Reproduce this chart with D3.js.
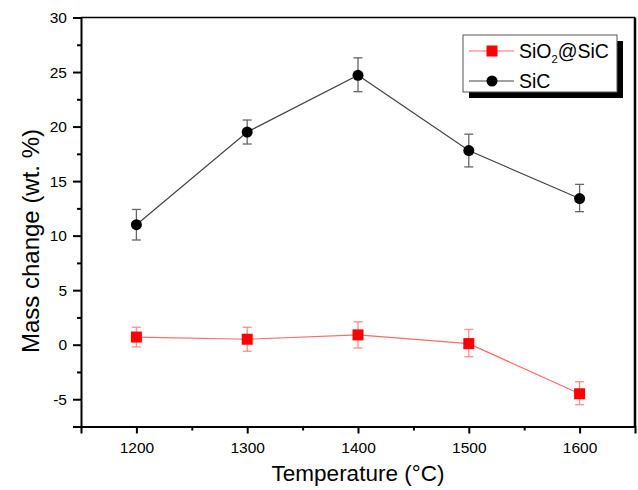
<!DOCTYPE html>
<html>
<head>
<meta charset="utf-8">
<script src="https://cdn.jsdelivr.net/npm/d3@7"></script>
<style>
  body { margin: 0; background: #fff; }
  svg text { font-family: "Liberation Sans", Arial, sans-serif; fill: #000; }
</style>
</head>
<body>
<svg id="chart" width="638" height="490"></svg>
<script>
// temperatures (°C)
var temps = [1200, 1300, 1400, 1500, 1600];

// SiC mass change and error bar limits
var sicValues = [11.0, 19.5, 24.7, 17.8, 13.4];
var sicLow    = [9.6, 18.4, 23.2, 16.3, 12.2];
var sicHigh   = [12.4, 20.6, 26.3, 19.3, 14.7];

// SiO2@SiC mass change and error bar limits
var coatValues = [0.7, 0.5, 0.9, 0.1, -4.5];
var coatLow    = [-0.2, -0.6, -0.3, -1.1, -5.5];
var coatHigh   = [1.6, 1.6, 2.1, 1.4, -3.4];

var yTicks = [-5, 0, 5, 10, 15, 20, 25, 30];
var yMinor = [-7.5, -2.5, 2.5, 7.5, 12.5, 17.5, 22.5, 27.5];
var xMinor = [1250, 1350, 1450, 1550];

const plotLeft = 81, plotRight = 635, plotTop = 17.5, plotBottom = 426.5;

var svg = d3.select("#chart");

var x = d3.scaleLinear().domain([1150, 1650]).range([plotLeft, plotRight]);
var y = d3.scaleLinear().domain([-7.5, 30]).range([plotBottom, plotTop]);

// frame top / right
svg.append("line")
    .attr("x1", plotLeft).attr("x2", plotRight)
    .attr("y1", plotTop).attr("y2", plotTop)
    .attr("stroke", "#000").attr("stroke-width", 1.5);
svg.append("line")
    .attr("x1", plotRight).attr("x2", plotRight)
    .attr("y1", plotTop).attr("y2", plotBottom)
    .attr("stroke", "#000").attr("stroke-width", 2.5);

// axes
var xAxis = svg.append("g")
    .attr("transform", "translate(0," + plotBottom + ")")
    .call(d3.axisBottom(x).tickValues(temps).tickSize(7).tickPadding(8).tickFormat(d3.format("d")));
var xMinorG = svg.append("g")
    .attr("transform", "translate(0," + plotBottom + ")")
    .call(d3.axisBottom(x).tickValues(xMinor).tickSize(4).tickFormat(""));

var yAxis = svg.append("g")
    .attr("transform", "translate(" + plotLeft + ",0)")
    .call(d3.axisLeft(y).tickValues(yTicks).tickSize(8).tickPadding(6).tickFormat(d => String(d)));
var yMinorG = svg.append("g")
    .attr("transform", "translate(" + plotLeft + ",0)")
    .call(d3.axisLeft(y).tickValues(yMinor).tickSize(4).tickFormat(""));

[xAxis, xMinorG, yAxis, yMinorG].forEach(g => {
    g.select(".domain").attr("stroke-width", 2).attr("stroke", "#000");
    g.selectAll(".tick line").attr("stroke-width", 2);
    g.selectAll(".tick text")
        .style("font-family", "Liberation Sans, Arial, sans-serif")
        .style("font-size", "15.5px");
});
xMinorG.select(".domain").remove();
yMinorG.select(".domain").remove();

// axis titles
svg.append("text")
    .attr("x", (plotLeft + plotRight) / 2)
    .attr("y", 481)
    .attr("text-anchor", "middle")
    .style("font-size", "22.5px")
    .text("Temperature (°C)");

svg.append("text")
    .attr("transform", "translate(39,241) rotate(-90)")
    .attr("text-anchor", "middle")
    .style("font-size", "24px")
    .text("Mass change (wt. %)");

// series
var series = [
    {name: "SiO2@SiC", vals: coatValues, lo: coatLow, hi: coatHigh,
     line: "#ff6a6a", err: "#ff8c8c", fill: "#ff0000", shape: "square"},
    {name: "SiC", vals: sicValues, lo: sicLow, hi: sicHigh,
     line: "#444", err: "#666", fill: "#000", shape: "circle"}
];

var lineGen = d3.line().x(d => x(d.t)).y(d => y(d.v));

series.forEach(s => {
    var pts = temps.map((t, i) => ({t: t, v: s.vals[i], lo: s.lo[i], hi: s.hi[i]}));
    var g = svg.append("g");

    g.append("path")
        .datum(pts)
        .attr("d", lineGen)
        .attr("fill", "none")
        .attr("stroke", s.line)
        .attr("stroke-width", 1.2);

    // error bars
    var eb = g.selectAll(".eb").data(pts).enter().append("g").attr("class", "eb");
    eb.append("line")
        .attr("x1", d => x(d.t)).attr("x2", d => x(d.t))
        .attr("y1", d => y(d.lo)).attr("y2", d => y(d.hi))
        .attr("stroke", s.err).attr("stroke-width", 1.3);
    eb.append("line")
        .attr("x1", d => x(d.t) - 4.5).attr("x2", d => x(d.t) + 4.5)
        .attr("y1", d => y(d.lo)).attr("y2", d => y(d.lo))
        .attr("stroke", s.err).attr("stroke-width", 1.3);
    eb.append("line")
        .attr("x1", d => x(d.t) - 4.5).attr("x2", d => x(d.t) + 4.5)
        .attr("y1", d => y(d.hi)).attr("y2", d => y(d.hi))
        .attr("stroke", s.err).attr("stroke-width", 1.3);

    if (s.shape === "circle") {
        g.selectAll(".pt").data(pts).enter().append("circle")
            .attr("cx", d => x(d.t)).attr("cy", d => y(d.v))
            .attr("r", 5.5).attr("fill", s.fill);
    } else {
        g.selectAll(".pt").data(pts).enter().append("rect")
            .attr("x", d => x(d.t) - 5.5).attr("y", d => y(d.v) - 5.5)
            .attr("width", 11).attr("height", 11).attr("fill", s.fill);
    }
});

// legend
var lg = svg.append("g");
lg.append("rect")
    .attr("x", 469).attr("y", 41).attr("width", 154).attr("height", 57)
    .attr("fill", "#000");
lg.append("rect")
    .attr("x", 463).attr("y", 35).attr("width", 154).attr("height", 57)
    .attr("fill", "#fff").attr("stroke", "#555").attr("stroke-width", 1);

var rows = lg.selectAll(".row").data(series).enter().append("g")
    .attr("transform", (d, i) => "translate(0," + (51 + i * 30) + ")");
rows.append("line")
    .attr("x1", 469).attr("x2", 514)
    .attr("stroke", d => d.line).attr("stroke-width", 1.2);
rows.each(function (d) {
    var r = d3.select(this);
    if (d.shape === "circle") {
        r.append("circle").attr("cx", 492).attr("cy", 0).attr("r", 5.5).attr("fill", d.fill);
    } else {
        r.append("rect").attr("x", 486.5).attr("y", -5.5).attr("width", 11).attr("height", 11).attr("fill", d.fill);
    }
    var t = r.append("text").attr("x", 519).attr("y", 7).style("font-size", "19.5px");
    if (d.name === "SiO2@SiC") {
        t.append("tspan").text("SiO");
        t.append("tspan").attr("dy", 5).style("font-size", "11px").text("2");
        t.append("tspan").attr("dy", -5).text("@SiC");
    } else {
        t.text(d.name);
    }
});
</script>
</body>
</html>
